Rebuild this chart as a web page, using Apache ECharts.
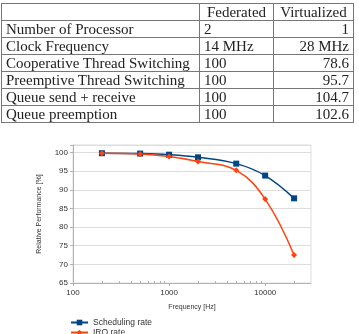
<!DOCTYPE html>
<html>
<head>
<meta charset="utf-8">
<script src="https://cdn.jsdelivr.net/npm/echarts@6/dist/echarts.min.js"></script>
<style>
    html, body { margin: 0; padding: 0; background: #fff; }
    #page { position: relative; width: 359px; height: 334px; overflow: hidden; }
    #chart { position: absolute; left: 0; top: 0; width: 359px; height: 334px; }
    #tbl {
        position: absolute; left: 1px; top: 3px; z-index: 2;
        border-collapse: collapse;
        font-family: "Liberation Serif", serif; font-size: 15px; color: #222;
    }
    #tbl td {
        border: 1px solid #777; height: 16px; line-height: 15px;
        padding: 0 4px; white-space: nowrap;
    }
    #tbl td.c1 { width: 189px; }
    #tbl td.c2 { width: 65px; }
    #tbl td.c3 { width: 71px; text-align: right; }
    #tbl tr.head td.c2, #tbl tr.head td.c3 { text-align: center; }
</style>
</head>
<body>
<div id="page">
    <div id="chart"></div>
    <table id="tbl"></table>
</div>
<script>
    // table
    var tableHead = ['', 'Federated', 'Virtualized'];
    var tableRows = ['Number of Processor', 'Clock Frequency', 'Cooperative Thread Switching',
        'Preemptive Thread Switching', 'Queue send + receive', 'Queue preemption'];
    var federated = ['2', '14 MHz', '100', '100', '100', '100'];
    var virtualized = ['1', '28 MHz', '78.6', '95.7', '104.7', '102.6'];

    // chart
    var freq = [200, 500, 1000, 2000, 5000, 10000, 20000];
    var schedRate = [99.8, 99.7, 99.4, 98.7, 97.0, 93.8, 87.7];
    var irqRate = [99.8, 99.6, 98.9, 97.6, 95.2, 87.5, 72.5];
    var xMajor = [100, 1000, 10000];
    var xMinor = [200, 300, 400, 500, 600, 700, 800, 900,
        2000, 3000, 4000, 5000, 6000, 7000, 8000, 9000, 20000];

    var html = '<tr class="head">';
    tableHead.forEach(function (h, i) {
        html += '<td class="c' + (i + 1) + '">' + h + '</td>';
    });
    html += '</tr>';
    tableRows.forEach(function (r, i) {
        html += '<tr><td class="c1">' + r + '</td><td class="c2">' + federated[i] +
            '</td><td class="c3">' + virtualized[i] + '</td></tr>';
    });
    document.getElementById('tbl').innerHTML = html;

    function pairs(xs, ys) {
        return xs.map(function (x, i) { return [x, ys[i]]; });
    }

    var font = 'Liberation Sans';
    var myChart = echarts.init(document.getElementById('chart'));
    var option = {
        animation: false,
        grid: {
            left: 73, top: 145, width: 238, height: 138,
            show: true, borderColor: '#dddddd', borderWidth: 1
        },
        legend: {
            orient: 'vertical', left: 65, top: 313, height: 60, itemGap: 1,
            itemWidth: 17, itemHeight: 7,
            textStyle: { fontFamily: font, fontSize: 8.5, color: '#333' },
            data: ['Scheduling rate', 'IRQ rate']
        },
        xAxis: [{
            type: 'log', logBase: 10, min: 100, max: 30000,
            name: 'Frequency [Hz]', nameLocation: 'middle', nameGap: 21,
            nameTextStyle: { fontFamily: font, fontSize: 7, color: '#333' },
            axisLine: { lineStyle: { color: '#b3b3b3' } },
            axisTick: { customValues: xMajor, length: 3, lineStyle: { color: '#b3b3b3' } },
            axisLabel: {
                customValues: xMajor, fontFamily: font, fontSize: 8, color: '#333', margin: 6,
                formatter: function (v) { return String(v); }
            },
            splitLine: { show: false }
        }, {
            type: 'log', logBase: 10, min: 100, max: 30000, position: 'bottom',
            axisLine: { show: false },
            axisTick: { customValues: xMinor, inside: true, length: 2, lineStyle: { color: '#b3b3b3' } },
            axisLabel: { show: false },
            splitLine: { show: false }
        }],
        yAxis: {
            type: 'value', min: 65, max: 102, interval: 5,
            name: 'Relative Performance [%]', nameLocation: 'middle', nameGap: 30,
            nameTextStyle: { fontFamily: font, fontSize: 7, color: '#333' },
            axisLine: { show: true, lineStyle: { color: '#b3b3b3' } },
            axisTick: { show: true, length: 3, lineStyle: { color: '#b3b3b3' } },
            axisLabel: {
                fontFamily: font, fontSize: 8, color: '#333', margin: 5,
                formatter: function (v) { return v % 5 === 0 ? String(v) : ''; }
            },
            splitLine: { lineStyle: { color: '#dddddd' } }
        },
        series: [{
            name: 'Scheduling rate', type: 'line', smooth: 0.4,
            symbol: 'rect', symbolSize: 6,
            itemStyle: { color: '#004586' },
            lineStyle: { color: '#004586', width: 1.5 },
            data: pairs(freq, schedRate)
        }, {
            name: 'IRQ rate', type: 'line', smooth: 0.4,
            symbol: 'diamond', symbolSize: 6,
            itemStyle: { color: '#ff420e' },
            lineStyle: { color: '#ff420e', width: 1.5 },
            data: pairs(freq, irqRate)
        }]
    };
    myChart.setOption(option);
</script>
</body>
</html>
